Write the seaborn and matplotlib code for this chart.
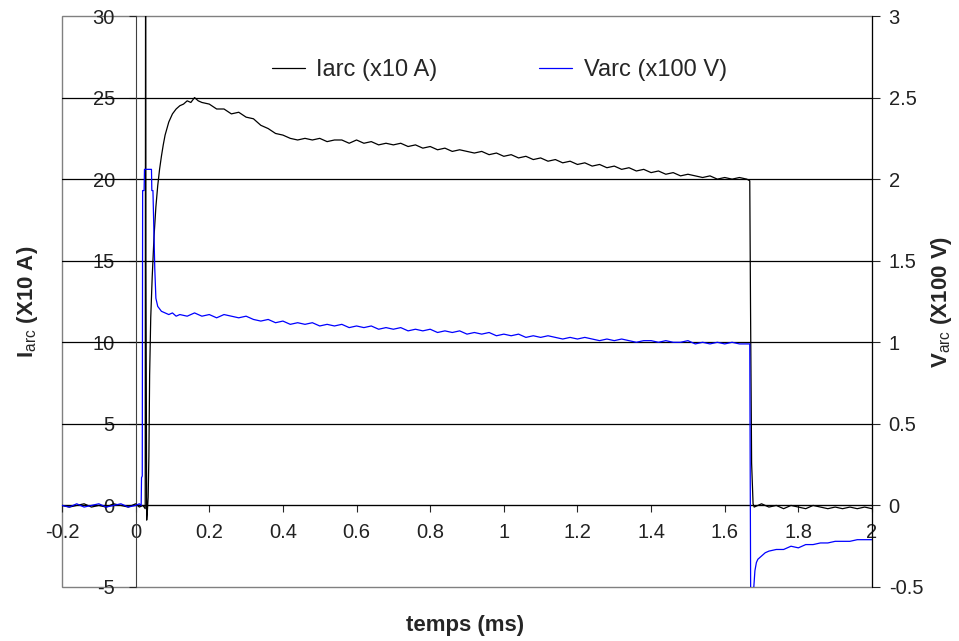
import numpy as np
import seaborn as sns
import matplotlib.pyplot as plt
from matplotlib.patches import Rectangle

sns.set_style("white")
plt.rcParams['font.family'] = ['Liberation Sans', 'DejaVu Sans']
plt.rcParams['mathtext.fontset'] = 'custom'
plt.rcParams['mathtext.rm'] = 'Liberation Sans'
plt.rcParams['mathtext.bf'] = 'Liberation Sans:bold'
plt.rcParams['axes.unicode_minus'] = False

# sampling grids (ms) of the readings taken off the traces
t_pre = np.round(np.arange(-0.20, 0.001, 0.02), 3)
t_arc = np.round(np.arange(0.20, 1.661, 0.02), 3)
t_post = np.round(np.arange(1.70, 2.001, 0.02), 3)

# Iarc (x10 A), left axis
i_pre = [0.0, -0.1, 0.0, 0.1, -0.1, 0.0, -0.1, 0.1, 0.0, -0.1, 0.1]
t_i_start = [0.010, 0.020, 0.026, 0.027, 0.028, 0.030, 0.032, 0.034, 0.036, 0.038,
             0.041, 0.045, 0.050, 0.055, 0.060, 0.065, 0.070, 0.075, 0.080, 0.090,
             0.100, 0.110, 0.120, 0.130, 0.140, 0.150, 0.160, 0.170, 0.180]
i_start = [-0.1, 0.0, -0.2, 34.0, 14.6, -0.9, -0.3, 0.5, 3.0, 8.0,
           11.5, 14.0, 16.5, 18.3, 19.6, 20.6, 21.4, 22.1, 22.7, 23.5,
           24.0, 24.3, 24.5, 24.6, 24.8, 24.7, 25.0, 24.8, 24.7]
i_arc = [24.6, 24.3, 24.3, 24.0, 24.1, 23.8, 23.7, 23.3, 23.1, 22.8,
         22.7, 22.5, 22.4, 22.5, 22.4, 22.5, 22.3, 22.4, 22.4, 22.2,
         22.4, 22.2, 22.3, 22.1, 22.2, 22.1, 22.2, 22.0, 22.1, 21.9,
         22.0, 21.8, 21.9, 21.7, 21.8, 21.7, 21.6, 21.7, 21.5, 21.6,
         21.4, 21.5, 21.3, 21.4, 21.2, 21.3, 21.1, 21.2, 21.0, 21.1,
         20.9, 21.0, 20.8, 20.9, 20.7, 20.8, 20.6, 20.7, 20.5, 20.6,
         20.4, 20.5, 20.3, 20.4, 20.2, 20.3, 20.2, 20.1, 20.2, 20.0,
         20.1, 20.0, 20.1, 20.0]
t_i_end = [1.668, 1.670, 1.673, 1.677, 1.680]
i_end = [19.9, 12.4, 2.6, 0.1, -0.1]
i_post = [0.1, -0.1, 0.0, -0.2, 0.0, -0.1, -0.2, 0.0, -0.1, -0.2,
          -0.1, -0.2, -0.1, -0.2, -0.1, -0.2]

# Varc (x100 V), right axis
v_pre = [0.0, -0.01, 0.01, -0.01, 0.0, 0.01, -0.01, 0.0, 0.01, -0.01, 0.0]
t_v_start = [0.010, 0.015, 0.016, 0.018, 0.019, 0.023, 0.024, 0.043, 0.044, 0.047,
             0.052, 0.055, 0.060, 0.070, 0.080, 0.090, 0.100, 0.110, 0.120, 0.140,
             0.160, 0.180]
v_start = [0.01, 0.0, 0.17, 0.18, 1.93, 1.93, 2.06, 2.06, 1.93, 1.93,
           1.45, 1.27, 1.22, 1.19, 1.18, 1.17, 1.18, 1.16, 1.17, 1.16,
           1.18, 1.16]
v_arc = [1.17, 1.15, 1.17, 1.16, 1.15, 1.16, 1.14, 1.13, 1.14, 1.12,
         1.13, 1.11, 1.12, 1.11, 1.12, 1.10, 1.11, 1.10, 1.11, 1.09,
         1.10, 1.09, 1.10, 1.08, 1.09, 1.08, 1.09, 1.07, 1.08, 1.07,
         1.08, 1.06, 1.07, 1.06, 1.07, 1.05, 1.06, 1.05, 1.06, 1.04,
         1.05, 1.04, 1.05, 1.03, 1.04, 1.03, 1.04, 1.03, 1.02, 1.03,
         1.02, 1.03, 1.02, 1.01, 1.02, 1.01, 1.02, 1.01, 1.00, 1.01,
         1.01, 1.00, 1.01, 1.00, 1.00, 1.01, 0.99, 1.00, 0.99, 1.00,
         0.99, 1.00, 0.99, 0.99]
t_v_end = [1.668, 1.671, 1.678, 1.679, 1.682, 1.686, 1.690]
v_end = [0.99, -0.9, -0.9, -0.5, -0.40, -0.35, -0.33]
v_post = [-0.31, -0.29, -0.28, -0.27, -0.27, -0.25, -0.26, -0.24, -0.24, -0.23,
          -0.23, -0.22, -0.22, -0.22, -0.21, -0.21]
t_v_post = [1.70, 1.71, 1.72, 1.74, 1.76, 1.78, 1.80, 1.82, 1.84, 1.86,
            1.88, 1.90, 1.92, 1.94, 1.96, 2.00]

x_ticks = [-0.2, 0, 0.2, 0.4, 0.6, 0.8, 1, 1.2, 1.4, 1.6, 1.8, 2]
x_labels = ['-0.2', '0', '0.2', '0.4', '0.6', '0.8', '1', '1.2', '1.4', '1.6', '1.8', '2']
yl_ticks = [-5, 0, 5, 10, 15, 20, 25, 30]
yl_labels = ['-5', '0', '5', '10', '15', '20', '25', '30']
yr_ticks = [-0.5, 0, 0.5, 1, 1.5, 2, 2.5, 3]
yr_labels = ['-0.5', '0', '0.5', '1', '1.5', '2', '2.5', '3']

t_iarc = list(t_pre) + t_i_start + list(t_arc) + t_i_end + list(t_post)
iarc = i_pre + i_start + i_arc + i_end + i_post
t_varc = list(t_pre) + t_v_start + list(t_arc) + t_v_end + t_v_post
varc = v_pre + v_start + v_arc + v_end + v_post

fig = plt.figure(figsize=(9.59, 6.41), dpi=100)
ax = fig.add_axes([62/959, 1 - 587/641, 810/959, 571/641])
ax2 = ax.twinx()

for v in yl_ticks[1:-1]:
    ax.axhline(v, color='black', lw=0.9, zorder=1)

sns.lineplot(x=t_iarc, y=iarc, ax=ax, color='black', lw=0.9, estimator=None,
             sort=False, label='Iarc (x10 A)', legend=False, zorder=3)
sns.lineplot(x=t_varc, y=varc, ax=ax2, color='#0000ff', lw=0.9, estimator=None,
             sort=False, label='Varc (x100 V)', legend=False)

ax.set_xlim(-0.2, 2)
ax.set_ylim(-5, 30)
ax2.set_ylim(-0.5, 3)

ax.spines['left'].set_position(('data', 0))
ax.spines['bottom'].set_position(('data', 0))
ax.spines['left'].set_color('#404040')
ax.spines['bottom'].set_color('black')
for s in ['top', 'right']:
    ax.spines[s].set_visible(False)
for s in ['top', 'left', 'bottom']:
    ax2.spines[s].set_visible(False)
ax2.spines['right'].set_color('black')
ax.add_patch(Rectangle((0, 0), 1, 1, transform=ax.transAxes, fill=False,
                       edgecolor='#808080', lw=1, clip_on=False, zorder=0))

ax.set_xticks(x_ticks, x_labels)
ax.set_yticks(yl_ticks, yl_labels)
ax2.set_yticks(yr_ticks, yr_labels)
ax.tick_params(axis='x', direction='out', length=5, pad=8, labelsize=14.5,
               labelcolor='#222222', bottom=True)
ax.tick_params(axis='y', direction='out', length=5, pad=10, labelsize=14.5,
               labelcolor='#222222', left=True)
ax2.tick_params(axis='y', direction='out', length=6, pad=6, labelsize=14.5,
                labelcolor='#222222', right=True)

ax.set_xlabel('temps (ms)', fontsize=16, fontweight='bold')
ax.xaxis.set_label_coords(0.4975, -0.067)
ax.xaxis.label.set_va('center')
ax.set_ylabel(r'$\mathbf{I}_{\mathrm{arc}}$ (X10 A)', fontsize=16, fontweight='bold')
ax.yaxis.set_label_coords(-0.043, 0.5)
ax.yaxis.label.set_va('center')
ax2.set_ylabel(r'$\mathbf{V}_{\mathrm{arc}}$ (X100 V)', fontsize=16, fontweight='bold')
ax2.yaxis.set_label_coords(1.086, 0.5)
ax2.yaxis.label.set_va('center')

h1, l1 = ax.get_legend_handles_labels()
h2, l2 = ax2.get_legend_handles_labels()
ax2.legend(h1 + h2, l1 + l2, loc='center', bbox_to_anchor=(0.54, 0.905), ncol=2,
           frameon=False, fontsize=17, handlelength=1.4, handletextpad=0.5,
           columnspacing=4.3)

fig.savefig('out.png', dpi=100)
